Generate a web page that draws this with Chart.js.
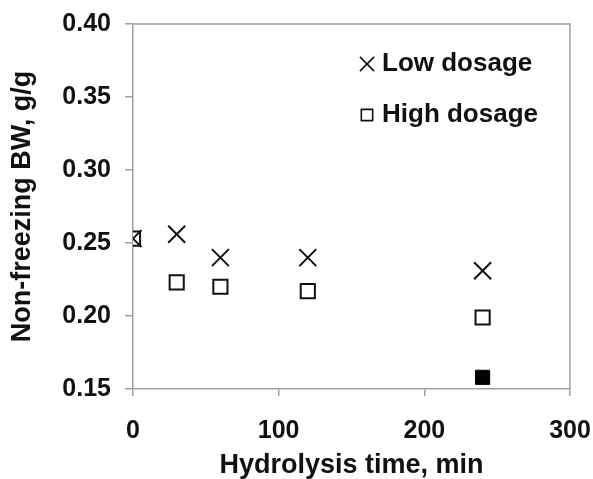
<!DOCTYPE html>
<html>
<head>
<meta charset="utf-8">
<script src="https://cdn.jsdelivr.net/npm/chart.js@4"></script>
<style>
  html, body { margin: 0; padding: 0; background: #fff; }
  #wrap { width: 593px; height: 479px; }
</style>
</head>
<body>
<div id="wrap"><canvas id="scatterChart"></canvas></div>
<script>
const timeMin = [0, 30, 60, 120, 240];
const lowDosage = [0.253, 0.256, 0.240, 0.240, 0.231];
const highDosage = [0.253, 0.223, 0.220, 0.217, 0.199];
const extraTime = [240];
const extraValue = [0.158];
const xTicks = [0, 100, 200, 300];
const yTicks = [0.15, 0.20, 0.25, 0.30, 0.35, 0.40];

const toPoints = (xs, ys) => xs.map((x, i) => ({ x: x, y: ys[i] }));
const family = 'Liberation Sans, Arial, sans-serif';
const font = { family: family, weight: 'bold', size: 25 };
const axisGray = '#a0a0a0';

// box around the plot + legend inside the plot area
const frameAndLegend = {
  id: 'frameAndLegend',
  afterDraw(chart) {
    const { ctx, chartArea: a } = chart;
    ctx.save();
    ctx.strokeStyle = axisGray;
    ctx.lineWidth = 1.5;
    ctx.beginPath();
    ctx.moveTo(a.left, a.top);
    ctx.lineTo(a.right, a.top);
    ctx.lineTo(a.right, a.bottom);
    ctx.stroke();

    const entries = chart.data.datasets.filter(d => d.label);
    entries.forEach((d, i) => {
      const y = a.top + 40 + i * 51;
      const x = a.right - 203;
      ctx.strokeStyle = '#111';
      ctx.fillStyle = '#fff';
      ctx.lineWidth = 1.6;
      Chart.helpers.drawPoint(ctx, { pointStyle: d.pointStyle, radius: d.pointStyle === 'rect' ? 8 : 10, borderWidth: 1.6 }, x, y);
      ctx.fillStyle = '#111';
      ctx.font = 'bold 26px ' + family;
      ctx.textBaseline = 'middle';
      ctx.textAlign = 'left';
      ctx.fillText(d.label, x + 15, y);
    });
    ctx.restore();
  }
};

new Chart(document.getElementById('scatterChart'), {
  type: 'scatter',
  data: {
    datasets: [
      {
        label: 'Low dosage',
        data: toPoints(timeMin, lowDosage),
        pointStyle: 'crossRot',
        pointRadius: 12,
        borderColor: '#111',
        borderWidth: 2
      },
      {
        label: 'High dosage',
        data: toPoints(timeMin, highDosage),
        pointStyle: 'rect',
        pointRadius: 10,
        borderColor: '#111',
        backgroundColor: '#fff',
        borderWidth: 2
      },
      {
        label: '',
        data: toPoints(extraTime, extraValue),
        pointStyle: 'rect',
        pointRadius: 10,
        borderColor: '#000',
        backgroundColor: '#000',
        borderWidth: 1
      }
    ]
  },
  options: {
    responsive: true,
    maintainAspectRatio: false,
    animation: false,
    layout: { padding: { top: 24, right: 23, left: 0, bottom: 0 } },
    plugins: {
      legend: { display: false },
      tooltip: { enabled: false }
    },
    scales: {
      x: {
        type: 'linear',
        min: 0,
        max: 300,
        afterBuildTicks: s => { s.ticks = xTicks.map(v => ({ value: v })); },
        afterFit: s => { s.height = 90; s.paddingLeft = 0; s.paddingRight = 0; },
        grid: { drawOnChartArea: false, color: axisGray, tickLength: 7, lineWidth: 1.5 },
        border: { color: axisGray, width: 1.5 },
        ticks: { color: '#111', font: font, padding: 20 },
        title: {
          display: true,
          text: 'Hydrolysis time, min',
          color: '#111',
          font: { family: family, weight: 'bold', size: 27, lineHeight: 1 },
          padding: { top: 0, bottom: 0 }
        }
      },
      y: {
        min: 0.15,
        max: 0.40,
        afterBuildTicks: s => { s.ticks = yTicks.map(v => ({ value: v })); },
        afterFit: s => { s.width = 133; s.paddingTop = 0; s.paddingBottom = 0; },
        grid: { drawOnChartArea: false, color: axisGray, tickLength: 8, lineWidth: 1.5 },
        border: { color: axisGray, width: 1.5 },
        ticks: { color: '#111', font: font, padding: 14, callback: v => v.toFixed(2) },
        title: {
          display: true,
          text: 'Non-freezing BW, g/g',
          color: '#111',
          font: { family: family, weight: 'bold', size: 27, lineHeight: 1 },
          padding: { top: 9, bottom: 0 }
        }
      }
    }
  },
  plugins: [frameAndLegend]
});
</script>
</body>
</html>
